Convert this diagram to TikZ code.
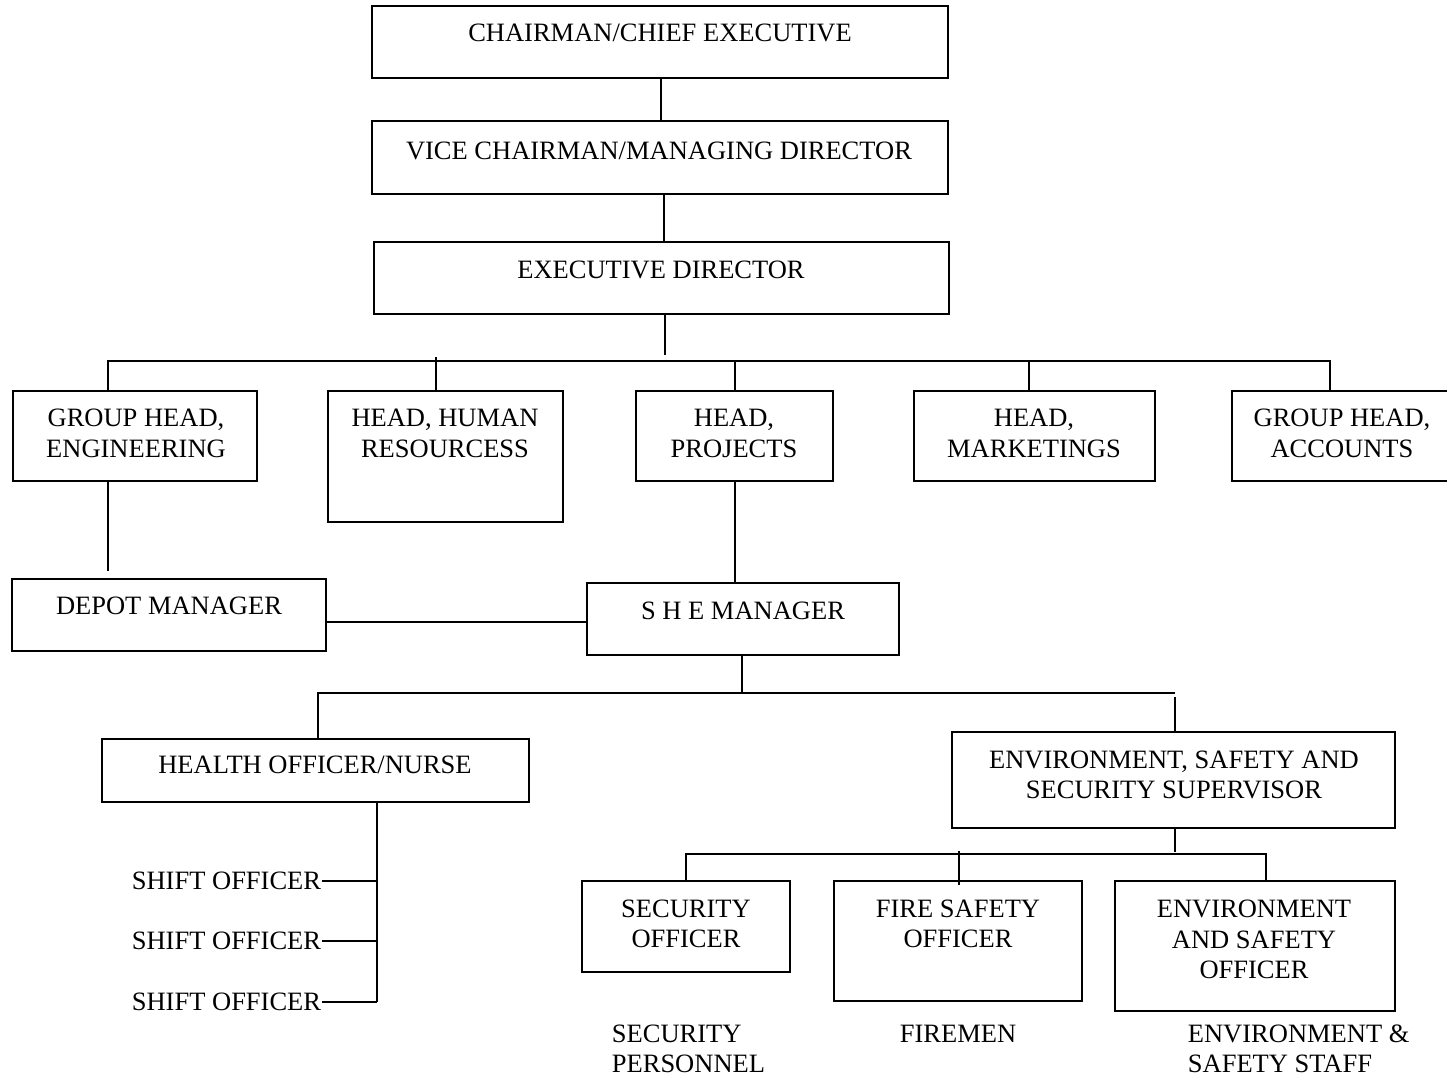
\documentclass[tikz,border=0pt]{standalone}
\usepackage{fontspec}
\setmainfont{Liberation Serif}
\begin{document}
\begin{tikzpicture}[x=1pt,y=-1pt, line width=1.8pt,
  box/.style={draw, line width=1.8pt, rectangle, inner sep=0pt},
  txt/.style={inner sep=0pt, align=center, font={\fontsize{26.5}{30.5}\selectfont}},
  ltxt/.style={inner sep=0pt, align=left, anchor=west, font={\fontsize{26.5}{30.5}\selectfont}}]
\useasboundingbox (0,0) rectangle (1447,1077);
\fill[white] (0,0) rectangle (1447,1077);
\clip (0,0) rectangle (1447,1077);

% boxes
\node[box, minimum width=576pt, minimum height=72pt] (ceo) at (660,42) {};
\node[box, minimum width=576pt, minimum height=73pt] (vc) at (660,157.5) {};
\node[box, minimum width=575pt, minimum height=72pt] (ed) at (661.5,278) {};
\node[box, minimum width=244pt, minimum height=90pt] (eng) at (135,436) {};
\node[box, minimum width=235pt, minimum height=131pt] (hr) at (445.5,456.5) {};
\node[box, minimum width=197pt, minimum height=90pt] (proj) at (734.5,436) {};
\node[box, minimum width=241pt, minimum height=90pt] (mkt) at (1034.5,436) {};
\node[box, minimum width=228pt, minimum height=90pt] (acc) at (1346,436) {};
\node[box, minimum width=314pt, minimum height=72pt] (depot) at (169,615) {};
\node[box, minimum width=312pt, minimum height=72pt] (she) at (743,619) {};
\node[box, minimum width=427pt, minimum height=63pt] (health) at (315.5,770.5) {};
\node[box, minimum width=443pt, minimum height=96pt] (ess) at (1173.5,780) {};
\node[box, minimum width=208pt, minimum height=91pt] (sec) at (686,926.5) {};
\node[box, minimum width=248pt, minimum height=120pt] (fire) at (958,941) {};
\node[box, minimum width=280pt, minimum height=130pt] (env) at (1255,946) {};

% texts
\node[txt] (tceo) at (660,33) {CHAIRMAN/CHIEF EXECUTIVE};
\node[txt] (tvc) at (659,151) {VICE CHAIRMAN/MANAGING DIRECTOR};
\node[txt] (ted) at (661,270) {EXECUTIVE DIRECTOR};
\node[txt] (teng) at (136,433.5) {GROUP HEAD,\\ENGINEERING};
\node[txt] (thr) at (445,433.5) {HEAD, HUMAN\\RESOURCESS};
\node[txt] (tproj) at (734,433.5) {HEAD,\\PROJECTS};
\node[txt] (tmkt) at (1034,433.5) {HEAD,\\MARKETINGS};
\node[txt] (tacc) at (1342,433.5) {GROUP HEAD,\\ACCOUNTS};
\node[txt] (tdepot) at (169,606) {DEPOT MANAGER};
\node[txt] (tshe) at (743,610.5) {S H E MANAGER};
\node[txt] (thealth) at (315,765) {HEALTH OFFICER/NURSE};
\node[txt] (tess) at (1174,775) {ENVIRONMENT, SAFETY AND\\SECURITY SUPERVISOR};
\node[txt] (tsec) at (686,924) {SECURITY\\OFFICER};
\node[txt] (tfire) at (958,924) {FIRE SAFETY\\OFFICER};
\node[txt] (tenv) at (1254,939.5) {ENVIRONMENT\\AND SAFETY\\OFFICER};
\node[txt, anchor=east] (s1) at (322,881) {SHIFT OFFICER};
\node[txt, anchor=east] (s2) at (322,941) {SHIFT OFFICER};
\node[txt, anchor=east] (s3) at (322,1002) {SHIFT OFFICER};
\node[ltxt] (tsp) at (611,1049) {SECURITY\\PERSONNEL};
\node[txt] (tfm) at (958,1034) {FIREMEN};
\node[ltxt] (tes) at (1187,1049) {ENVIRONMENT \&\\SAFETY STAFF};

% connectors, top levels
\coordinate (c1) at (661,0);
\coordinate (c2) at (664,0);
\draw (c1 |- ceo.south) -- (c1 |- vc.north);
\draw (c2 |- vc.south) -- (c2 |- ed.north);
\coordinate (e0) at (665,355);
\draw (e0 |- ed.south) -- (e0);
\coordinate (b1) at (108,361);
\coordinate (b5) at (1330,361);
\draw (b1 |- eng.north) -- (b1) -- (b5) -- (b5 |- acc.north);
\coordinate (t2) at (436,357);
\coordinate (t3) at (735,360);
\coordinate (t4) at (1029,360);
\draw (t2) -- (t2 |- hr.north);
\draw (t3) -- (t3 |- proj.north);
\draw (t4) -- (t4 |- mkt.north);

% engineering -> depot, projects -> SHE
\coordinate (d0) at (108,571);
\draw (d0 |- eng.south) -- (d0);
\draw (t3 |- proj.south) -- (t3 |- she.north);
\coordinate (h1) at (0,622);
\draw (depot.east |- h1) -- (she.west |- h1);

% SHE -> health / ESS
\coordinate (s0) at (742,693);
\draw (s0 |- she.south) -- (s0);
\coordinate (m1) at (318,693);
\coordinate (m2) at (1175,693);
\coordinate (m2b) at (1175,697);
\draw (m1 |- health.north) -- (m1) -- (m2);
\draw (m2b) -- (m2b |- ess.north);

% health -> shift officers
\coordinate (v0) at (377,1002);
\draw (v0 |- health.south) -- (v0);
\draw (s1.east) -- (s1.east -| v0);
\draw (s2.east) -- (s2.east -| v0);
\draw (s3.east) -- (s3.east -| v0);

% ESS -> officers
\coordinate (k0) at (1175,852);
\draw (k0 |- ess.south) -- (k0);
\coordinate (k1) at (686,854);
\coordinate (k3) at (1266,854);
\draw (k1 |- sec.north) -- (k1) -- (k3) -- (k3 |- env.north);
\coordinate (k2) at (959,851);
\coordinate (k2b) at (959,885);
\draw (k2) -- (k2b);
\end{tikzpicture}
\end{document}
